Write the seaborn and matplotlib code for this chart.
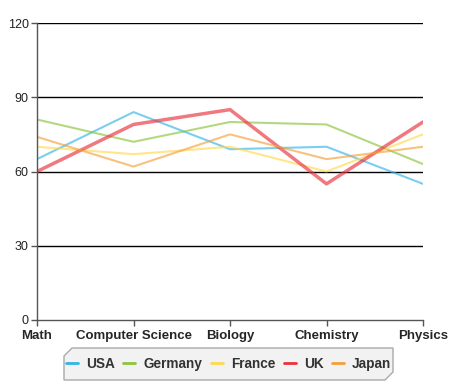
import pandas as pd
import numpy as np
import matplotlib.pyplot as plt
from matplotlib.patches import Polygon
from matplotlib.lines import Line2D
import seaborn as sns

subjects = ['Math', 'Computer Science', 'Biology', 'Chemistry', 'Physics']
usa = [65, 84, 69, 70, 55]
germany = [81, 72, 80, 79, 63]
france = [70, 67, 70, 60, 75]
uk = [60, 79, 85, 55, 80]
japan = [74, 62, 75, 65, 70]

countries = ['USA', 'Germany', 'France', 'UK', 'Japan']
colors = ['#33b5e5', '#8cc43c', '#ffd94d', '#e8323c', '#f5a03a']
widths = [1.5, 1.5, 1.5, 2.5, 1.5]

df = pd.DataFrame({'USA': usa, 'Germany': germany, 'France': france,
                   'UK': uk, 'Japan': japan}, index=subjects)
long_df = df.reset_index().melt(id_vars='index', var_name='country', value_name='score')
long_df = long_df.rename(columns={'index': 'subject'})

sns.set_style('white')
plt.rcParams['font.family'] = ['Liberation Sans', 'DejaVu Sans']

fig = plt.figure(figsize=(4.62, 3.83), dpi=100)
ax = fig.add_axes([37 / 462, 63 / 383, 386 / 462, 297 / 383])

for c, col, lw in zip(countries, colors, widths):
    sub = long_df[long_df['country'] == c]
    sns.lineplot(data=sub, x='subject', y='score', color=col, linewidth=lw,
                 alpha=0.65, ax=ax, sort=False, legend=False)

ax.set_xlim(0, len(subjects) - 1)
ax.set_ylim(0, 120)
ax.set_yticks([0, 30, 60, 90, 120])
for v in [30, 60, 90, 120]:
    ax.axhline(v, color='black', linewidth=1, zorder=0)

for side in ['top', 'right']:
    ax.spines[side].set_visible(False)
for side in ['left', 'bottom']:
    ax.spines[side].set_color('#555555')
    ax.spines[side].set_linewidth(1)

ax.tick_params(axis='y', length=4, width=1, color='#555555', labelsize=9,
               labelcolor='#222222', pad=2, left=True)
ax.tick_params(axis='x', length=4, width=1, color='#555555', labelsize=9.5,
               pad=3, bottom=True)
for lab in ax.get_xticklabels():
    lab.set_fontweight('bold')
ax.set_xlabel('')
ax.set_ylabel('')

# legend box with beveled corners
x0, x1 = 64 / 462, 393 / 462
y0, y1 = 1 - 380 / 383, 1 - 348 / 383
cx, cy = 8 / 462, 8 / 383
poly = Polygon([(x0 + cx, y1), (x1, y1), (x1, y0 + cy), (x1 - cx, y0),
                (x0, y0), (x0, y1 - cy)], closed=True, transform=fig.transFigure,
               facecolor='#f2f2f2', edgecolor='#aaaaaa', linewidth=1)
fig.patches.append(poly)

handles = [Line2D([0], [0], color=col, linewidth=2) for col in colors]
leg = fig.legend(handles, countries, loc='center', ncol=5,
                 bbox_to_anchor=((x0 + x1) / 2, (y0 + y1) / 2),
                 frameon=False, handlelength=0.9, handletextpad=0.6,
                 columnspacing=0.6, prop={'weight': 'bold', 'size': 9.8})
for t in leg.get_texts():
    t.set_color('#333333')

fig.savefig('out.png', dpi=100)
